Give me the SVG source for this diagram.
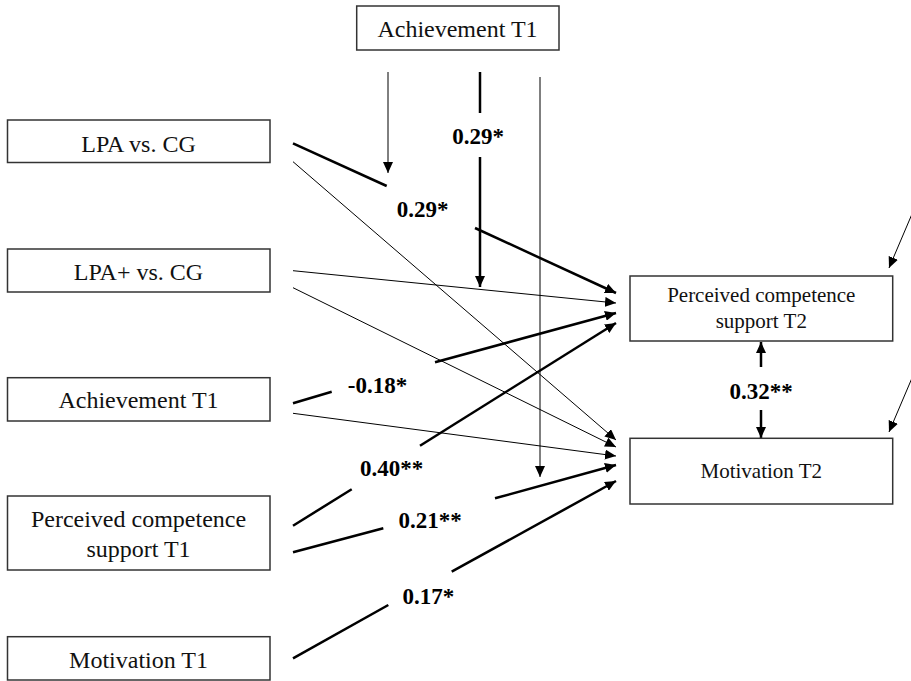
<svg xmlns="http://www.w3.org/2000/svg" width="911" height="681" viewBox="0 0 911 681">
<style>
.box{fill:#fff;stroke:#333;stroke-width:1.5}
text{font-family:'Times New Roman','Liberation Serif',Times,serif}
.t{font-size:24px;fill:#111;text-anchor:middle}
.t2{font-size:21px;fill:#111;text-anchor:middle}
.c{font-size:23px;font-weight:bold;fill:#000;text-anchor:middle}
.thin{stroke:#000;stroke-width:1;fill:none}
.thick{stroke:#000;stroke-width:2.5;fill:none}
</style>
<defs>
<marker id="ah" viewBox="0 0 11 10" refX="11" refY="5" markerWidth="11" markerHeight="10" markerUnits="userSpaceOnUse" orient="auto">
<path d="M0,0 L11,5 L0,10 z" fill="#000"/>
</marker>
</defs>
<rect width="911" height="681" fill="#fff"/>
<g id="connectors">
<line class="thin" x1="388" y1="72" x2="388" y2="173" marker-end="url(#ah)"/>
<line class="thick" x1="480" y1="72" x2="480" y2="113"/>
<line class="thick" x1="480" y1="157" x2="480" y2="287" marker-end="url(#ah)"/>
<line class="thin" x1="540" y1="77" x2="540" y2="477" marker-end="url(#ah)"/>
<line class="thick" x1="293" y1="143.3" x2="386.7" y2="186"/>
<line class="thick" x1="475" y1="228" x2="616" y2="293" marker-end="url(#ah)"/>
<line class="thin" x1="293" y1="270.7" x2="616" y2="303" marker-end="url(#ah)"/>
<line class="thick" x1="293" y1="403.3" x2="331.7" y2="391.7"/>
<line class="thick" x1="435" y1="362.3" x2="616" y2="313" marker-end="url(#ah)"/>
<line class="thick" x1="293" y1="525.7" x2="351.7" y2="489.3"/>
<line class="thick" x1="420" y1="445.7" x2="616" y2="323" marker-end="url(#ah)"/>
<line class="thin" x1="293" y1="161.7" x2="616" y2="440" marker-end="url(#ah)"/>
<line class="thin" x1="293" y1="287.7" x2="616" y2="447" marker-end="url(#ah)"/>
<line class="thin" x1="293" y1="413.3" x2="616" y2="456" marker-end="url(#ah)"/>
<line class="thick" x1="293" y1="552.3" x2="383.3" y2="528.3"/>
<line class="thick" x1="495" y1="498.3" x2="616" y2="465" marker-end="url(#ah)"/>
<line class="thick" x1="293" y1="658.3" x2="388.3" y2="605"/>
<line class="thick" x1="451.7" y1="571.7" x2="616" y2="481" marker-end="url(#ah)"/>
<line class="thick" x1="761" y1="367" x2="761" y2="342" marker-end="url(#ah)"/>
<line class="thick" x1="761" y1="410" x2="761" y2="438" marker-end="url(#ah)"/>
<line class="thin" x1="912" y1="214" x2="889" y2="268" marker-end="url(#ah)"/>
<line class="thin" x1="912" y1="378" x2="889" y2="432" marker-end="url(#ah)"/>
<text class="c" x="478" y="144">0.29*</text>
<text class="c" x="422.5" y="217">0.29*</text>
<text class="c" x="377.5" y="393">-0.18*</text>
<text class="c" x="391.7" y="476">0.40**</text>
<text class="c" x="430" y="528">0.21**</text>
<text class="c" x="428.3" y="603.5">0.17*</text>
<text class="c" x="761" y="398.5">0.32**</text>
</g>
<g id="n_ach_top">
<rect class="box" x="356.7" y="6" width="202.3" height="44"/>
<text class="t" x="457.5" y="37.3">Achievement T1</text>
</g>
<g id="n_lpa">
<rect class="box" x="7.5" y="120" width="262.5" height="42.5"/>
<text class="t" x="138.5" y="151.5">LPA vs. CG</text>
</g>
<g id="n_lpaplus">
<rect class="box" x="7.5" y="249" width="262.5" height="43"/>
<text class="t" x="138.5" y="280">LPA+ vs. CG</text>
</g>
<g id="n_ach_left">
<rect class="box" x="7.5" y="377.7" width="262.5" height="43.3"/>
<text class="t" x="138.5" y="408.3">Achievement T1</text>
</g>
<g id="n_pcs1">
<rect class="box" x="7.5" y="496" width="262.5" height="74"/>
<text class="t" x="138.5" y="527.3">Perceived competence</text>
<text class="t" x="138.5" y="556.7">support T1</text>
</g>
<g id="n_mot1">
<rect class="box" x="7.5" y="636.7" width="262.5" height="43.3"/>
<text class="t" x="138.5" y="667.7">Motivation T1</text>
</g>
<g id="n_pcs2">
<rect class="box" x="630" y="276" width="262.7" height="65"/>
<text class="t2" x="761.3" y="302.3">Perceived competence</text>
<text class="t2" x="761.3" y="328.3">support T2</text>
</g>
<g id="n_mot2">
<rect class="box" x="630" y="438.3" width="262.7" height="65.7"/>
<text class="t2" x="761.3" y="478.3">Motivation T2</text>
</g>
</svg>
